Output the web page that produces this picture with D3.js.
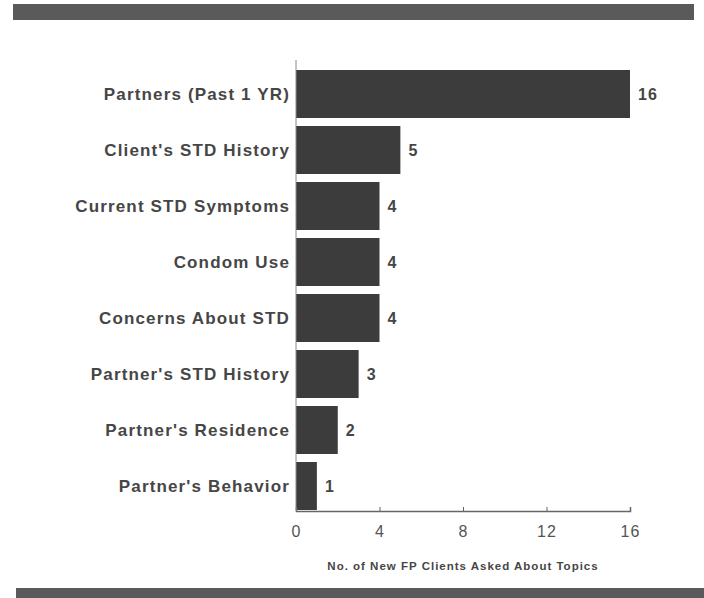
<!DOCTYPE html>
<html>
<head>
<meta charset="utf-8">
<script src="https://cdn.jsdelivr.net/npm/d3@7/dist/d3.min.js"></script>
<style>
  body { margin: 0; background: #fff; }
  text { font-family: "Liberation Sans", Arial, sans-serif; font-weight: bold; fill: #464646; }
</style>
</head>
<body>
<div id="vis"></div>
<script>
// data
var topics = ["Partners (Past 1 YR)", "Client's STD History", "Current STD Symptoms", "Condom Use",
              "Concerns About STD", "Partner's STD History", "Partner's Residence", "Partner's Behavior"];
var counts = [16, 5, 4, 4, 4, 3, 2, 1];
var xTicks = [0, 4, 8, 12, 16];
var xTitle = "No. of New FP Clients Asked About Topics";

var width = 704, height = 598;

var svg = d3.select("#vis")
    .append("svg")
    .attr("width", width)
    .attr("height", height);

// dark rules top and bottom
svg.append("rect")
    .attr("x", 13).attr("y", 4)
    .attr("width", 681).attr("height", 16)
    .attr("fill", "#5a5a5a");
svg.append("rect")
    .attr("x", 16).attr("y", 588)
    .attr("width", 688).attr("height", 10)
    .attr("fill", "#5a5a5a");

var x = d3.scaleLinear()
    .domain([0, 16])
    .range([296, 630]);

var y = d3.scaleBand()
    .domain(topics)
    .range([66, 514])
    .paddingInner(8 / 56)
    .paddingOuter(4 / 56);

// bars
svg.selectAll("rect.bar")
    .data(topics)
    .enter()
    .append("rect")
    .attr("class", "bar")
    .attr("x", x(0))
    .attr("y", function(d) { return y(d); })
    .attr("width", function(d, i) { return x(counts[i]) - x(0); })
    .attr("height", y.bandwidth())
    .attr("fill", "#3c3c3c");

// value labels
svg.selectAll("text.val")
    .data(topics)
    .enter()
    .append("text")
    .attr("class", "val")
    .attr("x", function(d, i) { return x(counts[i]) + 8; })
    .attr("y", function(d) { return y(d) + y.bandwidth() / 2; })
    .attr("dy", "0.35em")
    .attr("font-size", 16)
    .attr("letter-spacing", 1)
    .text(function(d, i) { return counts[i]; });

// category labels
svg.selectAll("text.cat")
    .data(topics)
    .enter()
    .append("text")
    .attr("class", "cat")
    .attr("x", 290)
    .attr("y", function(d) { return y(d) + y.bandwidth() / 2; })
    .attr("dy", "0.35em")
    .attr("text-anchor", "end")
    .attr("font-size", 17)
    .attr("letter-spacing", 1.15)
    .text(function(d) { return d; });

// x axis
var xAxis = svg.append("g")
    .attr("transform", "translate(0,511)")
    .call(d3.axisBottom(x).tickValues(xTicks).tickSize(-4).tickPadding(15));
xAxis.select(".domain").attr("stroke", "#666").attr("stroke-width", 1.5);
xAxis.selectAll(".tick line").attr("stroke", "#666");
xAxis.selectAll(".tick text")
    .attr("font-size", 16)
    .attr("letter-spacing", 1)
    .style("font-weight", "normal")
    .style("font-family", "'Liberation Sans', Arial, sans-serif")
    .style("fill", "#555");

// left zero line
svg.append("line")
    .attr("x1", x(0)).attr("x2", x(0))
    .attr("y1", 60).attr("y2", 511)
    .attr("stroke", "#888").attr("stroke-width", 1);

svg.append("text")
    .attr("x", 463)
    .attr("y", 570)
    .attr("text-anchor", "middle")
    .attr("font-size", 11.5)
    .attr("letter-spacing", 1)
    .text(xTitle);
</script>
</body>
</html>
